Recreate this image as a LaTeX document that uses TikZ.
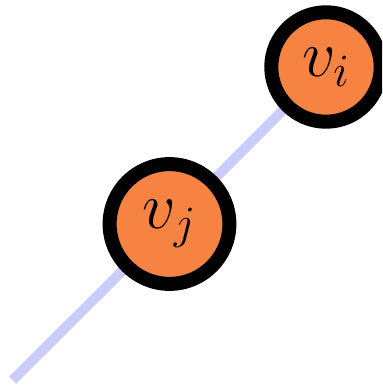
\RequirePackage{fix-cm}
\documentclass[tikz,border=0pt]{standalone}
\usetikzlibrary{backgrounds}
\definecolor{vertexfill}{RGB}{246,131,66}
\definecolor{edgeblue}{RGB}{204,204,250}
\tikzset{
  vertex/.style={circle, draw=black, line width=7pt, fill=vertexfill,
    inner sep=8.6pt, font=\fontsize{33}{36}\selectfont},
  edge/.style={draw=edgeblue, line width=5pt}
}
\begin{document}
\begin{tikzpicture}[x=1pt,y=1pt]
  \path[use as bounding box, clip] (0,0) rectangle (191,192.5);
  \node[vertex] (vi) at (163,159) {$v_i$};
  \node[vertex] (vj) at (84.75,80.5) {$v_j$};
  \coordinate (tail) at (6.3,2.4);
  \begin{pgfonlayer}{background}
    \draw[edge] (tail) -- (vj.center) -- (vi.center);
  \end{pgfonlayer}
\end{tikzpicture}
\end{document}
